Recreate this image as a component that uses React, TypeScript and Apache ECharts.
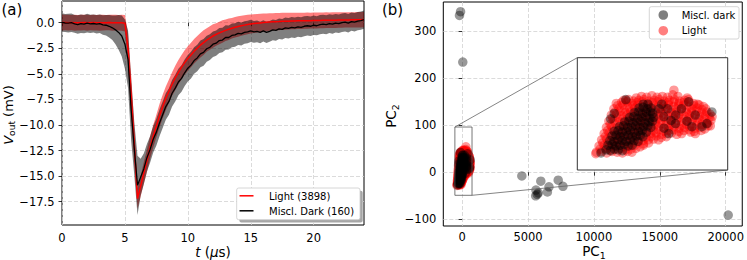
import React, { useEffect, useRef } from "react";
import * as echarts from "echarts";

const FONT = '"DejaVu Sans", sans-serif';

// Averaged pulses, sampled every 0.25 µs from 0 to 24 µs (mV).
const SAMPLE_STEP_US = 0.25;

const lightMean = [
  0.02, 0.01, 0.0, 0.01, 0.0, -0.01, 0.0, 0.01, 0.0, 0.0, 0.01, 0.0, -0.01, 0.0, 0.0, 0.01, 0.0, 0.0, 0.0, 0.0,
  -0.05, -2.6, -7.2, -12.0, -17.2,
  -16.0, -14.7, -13.5, -12.2, -11.1, -10.1, -9.1, -8.2, -7.4, -6.7, -6.0, -5.4, -4.85, -4.35, -3.9, -3.5,
  -3.15, -2.8, -2.5, -2.2, -1.95, -1.7, -1.5, -1.3, -1.15, -1.0, -0.87, -0.75, -0.64, -0.54, -0.45, -0.37,
  -0.3, -0.24, -0.18, -0.13, -0.09, -0.05, -0.02, 0.01, 0.04, 0.06, 0.08, 0.1, 0.11, 0.13, 0.14, 0.15,
  0.16, 0.17, 0.18, 0.18, 0.19, 0.2, 0.2, 0.21, 0.22, 0.22, 0.23, 0.24, 0.24, 0.25, 0.25, 0.26, 0.26, 0.27,
  0.27, 0.28, 0.28, 0.29, 0.29, 0.3,
];

const lightSpread = [
  0.78, 0.76, 0.77, 0.75, 0.78, 0.76, 0.77, 0.76, 0.78, 0.75, 0.77, 0.76, 0.78, 0.77, 0.75, 0.76, 0.78, 0.77, 0.76, 0.78,
  0.8, 1.6, 2.0, 1.8, 1.0,
  1.0, 1.05, 1.1, 1.1, 1.1, 1.1, 1.15, 1.15, 1.15, 1.15, 1.15, 1.2, 1.2, 1.2, 1.2, 1.2,
  1.2, 1.2, 1.2, 1.2, 1.2, 1.15, 1.15, 1.15, 1.1, 1.1, 1.1, 1.05, 1.05, 1.0, 1.0, 1.0,
  0.98, 0.96, 0.95, 0.93, 0.92, 0.9, 0.9, 0.88, 0.87, 0.86, 0.85, 0.85, 0.84, 0.83, 0.82, 0.82,
  0.81, 0.8, 0.8, 0.8, 0.79, 0.79, 0.78, 0.78, 0.78, 0.77, 0.77, 0.77, 0.76, 0.76, 0.76, 0.76, 0.75,
  0.75, 0.75, 0.75, 0.75, 0.75, 0.75, 0.75,
];

const darkMean = [
  0.02, -0.03, -0.05, 0.0, -0.12, -0.18, -0.1, -0.15, -0.05, -0.12, -0.08, -0.15, -0.1, -0.22, -0.25, -0.35, -0.5, -0.7, -0.95, -1.3,
  -2.1, -3.6, -8.6, -12.4, -15.9,
  -15.1, -14.3, -13.2, -12.4, -11.4, -10.7, -9.8, -9.0, -8.2, -7.7, -6.9, -6.4, -5.8, -5.45, -4.9, -4.45,
  -4.15, -3.7, -3.45, -3.05, -2.9, -2.55, -2.4, -2.1, -2.0, -1.75, -1.7, -1.45, -1.45, -1.25, -1.2, -1.05,
  -1.1, -0.95, -0.9, -0.8, -0.9, -0.85, -0.95, -0.8, -0.95, -0.85, -0.7, -0.75, -0.6, -0.65, -0.5, -0.55,
  -0.45, -0.5, -0.4, -0.45, -0.35, -0.3, -0.35, -0.25, -0.3, -0.2, -0.15, -0.2, -0.1, -0.15, -0.05, -0.1,
  0.0, 0.05, -0.05, 0.1, 0.05, 0.15, 0.2, 0.3,
];

const darkSpread = [
  0.9, 0.88, 0.92, 0.9, 0.87, 0.91, 0.9, 0.89, 0.92, 0.9, 0.88, 0.91, 0.9,
  0.95, 1.0, 1.1, 1.2, 1.4, 1.7, 2.0, 2.4, 2.8, 3.0, 2.6, 2.9,
  1.8, 1.5, 1.35, 1.3, 1.3, 1.3, 1.3, 1.3, 1.3, 1.3, 1.3, 1.3, 1.3, 1.3, 1.3, 1.3,
  1.3, 1.3, 1.3, 1.3, 1.3, 1.28, 1.26, 1.25, 1.24, 1.22, 1.2, 1.2, 1.18, 1.16, 1.15, 1.14,
  1.12, 1.1, 1.1, 1.08, 1.07, 1.06, 1.05, 1.04, 1.03, 1.02, 1.02, 1.01, 1.0, 1.0, 1.0, 1.0,
  1.0, 1.0, 0.98, 0.98, 0.97, 0.96, 0.95, 0.95, 0.94, 0.94, 0.93, 0.93, 0.92, 0.92, 0.91, 0.91,
  0.9, 0.9, 0.9, 0.9, 0.9, 0.9, 0.9, 0.9,
];

const timeTicks = [0, 5, 10, 15, 20];
const voltTicks = [-17.5, -15, -12.5, -10, -7.5, -5, -2.5, 0];
const pc1Ticks = [0, 5000, 10000, 15000, 20000];
const pc2Ticks = [-100, 0, 100, 200, 300];

// Principal-component scores [PC1, PC2] of the light pulses.
const lightPoints: [number, number][] = [
  [-385, -26], [-342, -25], [-296, -27], [-250, -25], [-205, -26], [-160, -27], [-116, -25], [-78, -26],
  [-352, -22], [-308, -21], [-264, -23], [-220, -22], [-176, -21], [-132, -23], [-88, -22], [-44, -21],
  [-362, -18], [-318, -17], [-274, -19], [-230, -18], [-186, -17], [-141, -19], [-96, -18], [-52, -17], [-8, -19], [22, -17],
  [-330, -14], [-286, -13], [-242, -15], [-198, -14], [-154, -13], [-110, -15], [-66, -14], [-22, -13], [22, -15], [66, -14],
  [-340, -10], [-296, -9], [-252, -11], [-207, -10], [-162, -9], [-118, -11], [-72, -10], [-27, -9], [18, -11], [63, -10],
  [108, -9], [152, -10],
  [-308, -6], [-264, -5], [-220, -7], [-176, -6], [-132, -5], [-88, -7], [-44, -6], [0, -5], [44, -7], [88, -6], [132, -5],
  [176, -7], [220, -6],
  [-318, -2], [-276, -1], [-230, -3], [-186, -2], [-140, -1], [-96, -3], [-50, -2], [-5, -1], [40, -3], [86, -2], [130, -1],
  [176, -3], [220, -2], [265, -1], [310, -3], [352, -2],
  [-288, 2], [-244, 3], [-200, 1], [-156, 2], [-112, 3], [-68, 1], [-24, 2], [20, 3], [64, 1], [108, 2], [152, 3], [196, 1],
  [240, 2], [284, 3], [328, 1], [372, 2], [416, 3], [460, 1],
  [-298, 6], [-254, 7], [-209, 5], [-164, 6], [-119, 7], [-74, 5], [-29, 6], [16, 7], [61, 5], [106, 6], [151, 7], [196, 5],
  [241, 6], [286, 7], [331, 5], [376, 6], [421, 7], [466, 5], [511, 6], [552, 4], [580, 8],
  [-266, 10], [-222, 11], [-178, 9], [-134, 10], [-90, 11], [-46, 9], [-2, 10], [42, 11], [86, 9], [130, 10], [174, 11],
  [218, 9], [262, 10], [306, 11], [350, 9], [394, 10], [438, 11], [482, 9], [526, 10], [570, 11],
  [-277, 14], [-232, 15], [-187, 13], [-142, 14], [-97, 15], [-52, 13], [-7, 14], [38, 15], [83, 13], [128, 14], [173, 15],
  [218, 13], [263, 14], [308, 15], [353, 13], [398, 14], [443, 15], [488, 13], [533, 14], [575, 12], [605, 15],
  [-245, 18], [-201, 19], [-157, 17], [-113, 18], [-69, 19], [-25, 17], [19, 18], [63, 19], [107, 17], [151, 18], [195, 19],
  [239, 17], [283, 18], [327, 19], [371, 17], [415, 18], [459, 19], [503, 17], [547, 18], [591, 19],
  [-256, 22], [-211, 23], [-166, 21], [-121, 22], [-76, 23], [-31, 21], [14, 22], [59, 23], [104, 21], [149, 22],
  [194, 23], [239, 21], [284, 22], [329, 23], [374, 21], [419, 22], [464, 23], [509, 21], [554, 22], [597, 23],
  [-223, 26], [-179, 27], [-135, 25], [-91, 26], [-47, 27], [-3, 25], [41, 26], [85, 27], [129, 25], [173, 26],
  [217, 27], [261, 25], [305, 26], [349, 27], [393, 25], [437, 26], [481, 27], [525, 25], [569, 26],
  [-234, 30], [-189, 31], [-144, 29], [-99, 30], [-54, 31], [-9, 29], [36, 30], [81, 31], [126, 29], [171, 30],
  [216, 31], [261, 29], [306, 30], [351, 31], [396, 29], [441, 30], [486, 31], [528, 29], [560, 30],
  [-201, 34], [-157, 35], [-113, 33], [-69, 34], [-25, 35], [19, 33], [63, 34], [107, 35], [151, 33], [195, 34],
  [239, 35], [283, 33], [327, 34], [371, 35], [415, 33], [459, 34], [503, 35],
  [-213, 37], [-168, 38], [-123, 39], [-78, 37], [-33, 38], [12, 39], [57, 37], [102, 38], [147, 39], [192, 37],
  [237, 38], [282, 39], [327, 37], [372, 38], [417, 39], [455, 37], [490, 36],
  [-150, 41], [-106, 42], [-62, 40], [-18, 41], [26, 42], [70, 40], [114, 41], [158, 42], [202, 40], [246, 41],
  [290, 42], [334, 40], [378, 41], [410, 42],
  [-40, 44], [5, 46], [50, 45], [95, 47], [140, 45], [185, 46], [230, 45], [275, 48], [320, 46],
  [285, 54], [-130, 41], [400, 44], [540, 33], [615, 20], [600, 8], [-390, -28], [470, -2], [430, 0], [520, 2],
];

// Principal-component scores [PC1, PC2] of the miscellaneous dark pulses.
const darkPoints: [number, number][] = [
  // dense core of the cluster
  [-300, -23], [-265, -24], [-230, -22], [-195, -23], [-160, -24],
  [-285, -17], [-250, -16], [-215, -18], [-180, -17], [-145, -16], [-110, -18], [-75, -17],
  [-268, -11], [-233, -12], [-198, -10], [-163, -11], [-128, -12], [-93, -10], [-58, -11], [-25, -12],
  [-250, -5], [-215, -4], [-180, -6], [-145, -5], [-110, -4], [-75, -6], [-40, -5], [-5, -4], [17, -6],
  [-232, 1], [-197, 2], [-162, 0], [-127, 1], [-92, 2], [-57, 0], [-22, 1], [13, 2], [48, 0],
  [-185, 7], [-150, 8], [-115, 6], [-80, 7], [-45, 8], [-10, 6], [25, 7], [60, 8], [86, 6],
  [-140, 13], [-105, 14], [-70, 12], [-35, 13], [0, 14], [35, 12], [70, 13], [100, 14],
  [-97, 19], [-62, 20], [-27, 18], [8, 19], [43, 20], [78, 18], [112, 19],
  [-57, 25], [-22, 26], [13, 24], [48, 25], [83, 26], [102, 24],
  [-16, 31], [19, 32], [54, 30], [88, 31],
  [20, 36], [60, 36],
  // scattered within the cluster
  [-131, 42], [-231, 24], [-262, 17], [412, 39], [613, 26], [570, 11], [527, 7], [198, 20], [298, 11],
  [398, 14], [470, 22], [241, -2], [441, 7], [155, 30], [230, 30], [350, 30], [300, 22], [200, 5],
  [260, 15], [180, 36], [-345, -27],
  // outliers
  [-120, 341], [-200, 333], [50, 234], [4530, -8], [5970, -19], [5600, -38], [5580, -50], [5780, -44],
  [5700, -47], [6590, -31], [6470, -42], [7290, -17], [7650, -30], [20190, -91],
];

// Zoomed window shown in the inset
const INSET_PC1: [number, number] = [-550, 750];
const INSET_PC2: [number, number] = [-49, 96];

const RED_A = "rgba(255,0,0,0.5)";
const BLACK_A = "rgba(0,0,0,0.5)";

const withMinus = (s: string) => s.replace("-", "\u2212");

const measureCtx = typeof document !== "undefined" ? document.createElement("canvas").getContext("2d") : null;
function textWidth(text: string, size: number, italic = false) {
  if (!measureCtx) return text.length * size * 0.6;
  measureCtx.font = `${italic ? "italic " : ""}${size}px "DejaVu Sans"`;
  return measureCtx.measureText(text).width;
}

type Run = { text: string; italic?: boolean; sub?: boolean };

// Title with subscripts; (x, y) is the centre of the baseline.
function mathTitle(runs: Run[], size: number, x: number, y: number, vertical: boolean) {
  const subSize = size * 0.7;
  const widths = runs.map((r) => textWidth(r.text, r.sub ? subSize : size, r.italic));
  const total = widths.reduce((a, b) => a + b, 0);
  let cursor = -total / 2;
  const children = runs.map((r, i) => {
    const fs = r.sub ? subSize : size;
    const base = r.sub ? size * 0.22 : 0;
    const el = {
      type: "text",
      x: cursor,
      y: base - fs * 0.346,
      style: {
        text: r.text,
        fontSize: fs,
        fontFamily: FONT,
        fontStyle: r.italic ? "italic" : "normal",
        fill: "#000",
        align: "left",
        verticalAlign: "middle",
      },
    };
    cursor += widths[i];
    return el;
  });
  return { type: "group", x, y, rotation: vertical ? Math.PI / 2 : 0, children, z: 50 };
}

function plainText(text: string, x: number, y: number, size: number) {
  return {
    type: "text",
    x,
    y,
    z: 60,
    style: { text, fontSize: size, fontFamily: FONT, fill: "#000", align: "left", verticalAlign: "middle" },
  };
}

function bandSeries(mean: number[], spread: number[], fill: string) {
  const data = mean.map((v, i) => [i * SAMPLE_STEP_US, v - spread[i], v + spread[i]]);
  return {
    type: "custom",
    xAxisIndex: 0,
    yAxisIndex: 0,
    z: 2,
    silent: true,
    data,
    encode: { x: 0, y: [1, 2] },
    renderItem: (params: any, api: any) => {
      if (params.dataIndex !== 0) return null;
      const upper = data.map((d) => api.coord([d[0], d[2]]));
      const lower = data.map((d) => api.coord([d[0], d[1]])).reverse();
      return { type: "polygon", shape: { points: upper.concat(lower) }, style: { fill, stroke: "none" } };
    },
  };
}

function lineSeries(name: string, mean: number[], color: string, width: number) {
  return {
    name,
    type: "line",
    xAxisIndex: 0,
    yAxisIndex: 0,
    z: 3,
    silent: true,
    showSymbol: false,
    symbol: "none",
    data: mean.map((v, i) => [i * SAMPLE_STEP_US, v]),
    lineStyle: { color, width },
  };
}

function scatterSeries(name: string, data: [number, number][], color: string, axis: number, z: number) {
  return {
    name,
    type: "scatter",
    xAxisIndex: axis,
    yAxisIndex: axis,
    z,
    silent: true,
    symbol: "circle",
    symbolSize: 9.5,
    data,
    itemStyle: { color, borderWidth: 0 },
  };
}

const tickStyle = { fontFamily: FONT, fontSize: 11.5, color: "#000" };
const gridLine = { show: true, lineStyle: { color: "#d2d2d2", width: 0.8, type: [4, 2] } };

function valueAxis(gridIndex: number, min: number, max: number, ticks: number[], fmt: (v: number) => string, margin: number) {
  return {
    type: "value",
    gridIndex,
    min,
    max,
    axisLine: { show: false },
    axisTick: { show: true, customValues: ticks, length: 3.5, lineStyle: { color: "#000", width: 0.8 } },
    axisLabel: { show: true, customValues: ticks, formatter: fmt, margin, ...tickStyle },
    splitLine: gridLine,
  };
}

export default function App() {
  const ref = useRef<HTMLDivElement>(null);

  useEffect(() => {
    if (!ref.current) return;
    const chart = echarts.init(ref.current, null, { renderer: "svg" });

    const zoomBox = [
      [INSET_PC1[0], INSET_PC2[0]],
      [INSET_PC1[1], INSET_PC2[0]],
      [INSET_PC1[1], INSET_PC2[1]],
      [INSET_PC1[0], INSET_PC2[1]],
      [INSET_PC1[0], INSET_PC2[0]],
    ];

    chart.setOption({
      animation: false,
      textStyle: { fontFamily: FONT },
      grid: [
        { left: 62, top: 1, width: 302, height: 224, show: true, borderColor: "#000", borderWidth: 1, z: 0 },
        { left: 443.3, top: 2, width: 301.7, height: 224, show: true, borderColor: "#000", borderWidth: 1, z: 0 },
        {
          left: 577.3, top: 57.7, width: 150.4, height: 112.3, show: true,
          borderColor: "#333", borderWidth: 1, backgroundColor: "#fff", z: 5,
        },
      ],
      xAxis: [
        valueAxis(0, 0, 24, timeTicks, (v) => String(v), 6.5),
        valueAxis(1, -1429, 21256, pc1Ticks, (v) => withMinus(String(v)), 4.5),
        { type: "value", gridIndex: 2, min: INSET_PC1[0], max: INSET_PC1[1], show: false },
      ],
      yAxis: [
        valueAxis(0, -19.78, 2.12, voltTicks, (v) => withMinus(v.toFixed(1)), 7.5),
        valueAxis(1, -114.2, 361.5, pc2Ticks, (v) => withMinus(String(v)), 7),
        { type: "value", gridIndex: 2, min: INSET_PC2[0], max: INSET_PC2[1], show: false },
      ],
      series: [
        bandSeries(lightMean, lightSpread, RED_A),
        bandSeries(darkMean, darkSpread, BLACK_A),
        lineSeries("Light (3898)", lightMean, "#ff0000", 1.5),
        lineSeries("Miscl. Dark (160)", darkMean, "#000000", 1.3),
        scatterSeries("Light", lightPoints, RED_A, 1, 2),
        scatterSeries("Miscl. dark", darkPoints, BLACK_A, 1, 2),
        {
          type: "line",
          xAxisIndex: 1,
          yAxisIndex: 1,
          z: 4,
          silent: true,
          showSymbol: false,
          symbol: "none",
          data: zoomBox,
          lineStyle: { color: "#555", width: 0.8 },
        },
        scatterSeries("Light", lightPoints, RED_A, 2, 6),
        scatterSeries("Miscl. dark", darkPoints, BLACK_A, 2, 6),
      ],
    });

    // Connector lines between the zoom box and the inset
    const mainTL = chart.convertToPixel({ gridIndex: 1 }, [INSET_PC1[0], INSET_PC2[1]]) as number[];
    const insetTL = chart.convertToPixel({ gridIndex: 2 }, [INSET_PC1[0], INSET_PC2[1]]) as number[];
    const mainBR = chart.convertToPixel({ gridIndex: 1 }, [INSET_PC1[1], INSET_PC2[0]]) as number[];
    const insetBR = chart.convertToPixel({ gridIndex: 2 }, [INSET_PC1[1], INSET_PC2[0]]) as number[];
    const connector = (a: number[], b: number[]) => ({
      type: "line",
      z: 4,
      silent: true,
      shape: { x1: a[0], y1: a[1], x2: b[0], y2: b[1] },
      style: { stroke: "#666", lineWidth: 0.8 },
    });

    chart.setOption({
      graphic: [
        connector(mainTL, insetTL),
        connector(mainBR, insetBR),
        // panel tags
        { type: "text", x: 1.5, y: 10, z: 60, style: { text: "(a)", fontSize: 15, fontFamily: FONT, fill: "#000", align: "left", verticalAlign: "middle" } },
        { type: "text", x: 382, y: 9.5, z: 60, style: { text: "(b)", fontSize: 15, fontFamily: FONT, fill: "#000", align: "left", verticalAlign: "middle" } },
        // axis titles
        mathTitle([{ text: "t", italic: true }, { text: " (" }, { text: "\u03bc", italic: true }, { text: "s)" }], 13.5, 213, 256.6, false),
        mathTitle([{ text: "V", italic: true }, { text: "out", sub: true }, { text: " (mV)" }], 13, 12.5, 115, true),
        mathTitle([{ text: "PC" }, { text: "1", sub: true }], 13.5, 594, 255.5, false),
        mathTitle([{ text: "PC" }, { text: "2", sub: true }], 13.5, 395.5, 116, true),
        // legend of panel (a)
        { type: "rect", z: 58, silent: true, shape: { x: 239.4, y: 190.7, width: 123.3, height: 31.7, r: 2 }, style: { fill: "#a6a6a6" } },
        { type: "rect", z: 59, silent: true, shape: { x: 236.7, y: 188, width: 123.3, height: 31.7, r: 2 }, style: { fill: "#fff", stroke: "#cccccc", lineWidth: 0.8 } },
        { type: "line", z: 60, silent: true, shape: { x1: 239.5, y1: 195.8, x2: 253.5, y2: 195.8 }, style: { stroke: "#ff0000", lineWidth: 1.5 } },
        plainText("Light (3898)", 269, 196, 10),
        { type: "line", z: 60, silent: true, shape: { x1: 239.5, y1: 210.8, x2: 253.5, y2: 210.8 }, style: { stroke: "#000", lineWidth: 1.5 } },
        plainText("Miscl. Dark (160)", 269, 211, 10),
        // legend of panel (b)
        { type: "rect", z: 59, silent: true, shape: { x: 649.3, y: 6.7, width: 89.7, height: 32.3, r: 2 }, style: { fill: "#fff", stroke: "#cccccc", lineWidth: 0.8 } },
        { type: "circle", z: 60, silent: true, shape: { cx: 663.3, cy: 15, r: 4.8 }, style: { fill: BLACK_A } },
        plainText("Miscl. dark", 681.7, 15.2, 10),
        { type: "circle", z: 60, silent: true, shape: { cx: 663.3, cy: 30.7, r: 4.8 }, style: { fill: RED_A } },
        plainText("Light", 681.7, 30.9, 10),
      ],
    });

    return () => chart.dispose();
  }, []);

  return (
    <div style={{ position: "absolute", left: 0, top: 0, width: 747, height: 260, background: "#fff" }}>
      <div ref={ref} style={{ width: 747, height: 260 }} />
    </div>
  );
}
